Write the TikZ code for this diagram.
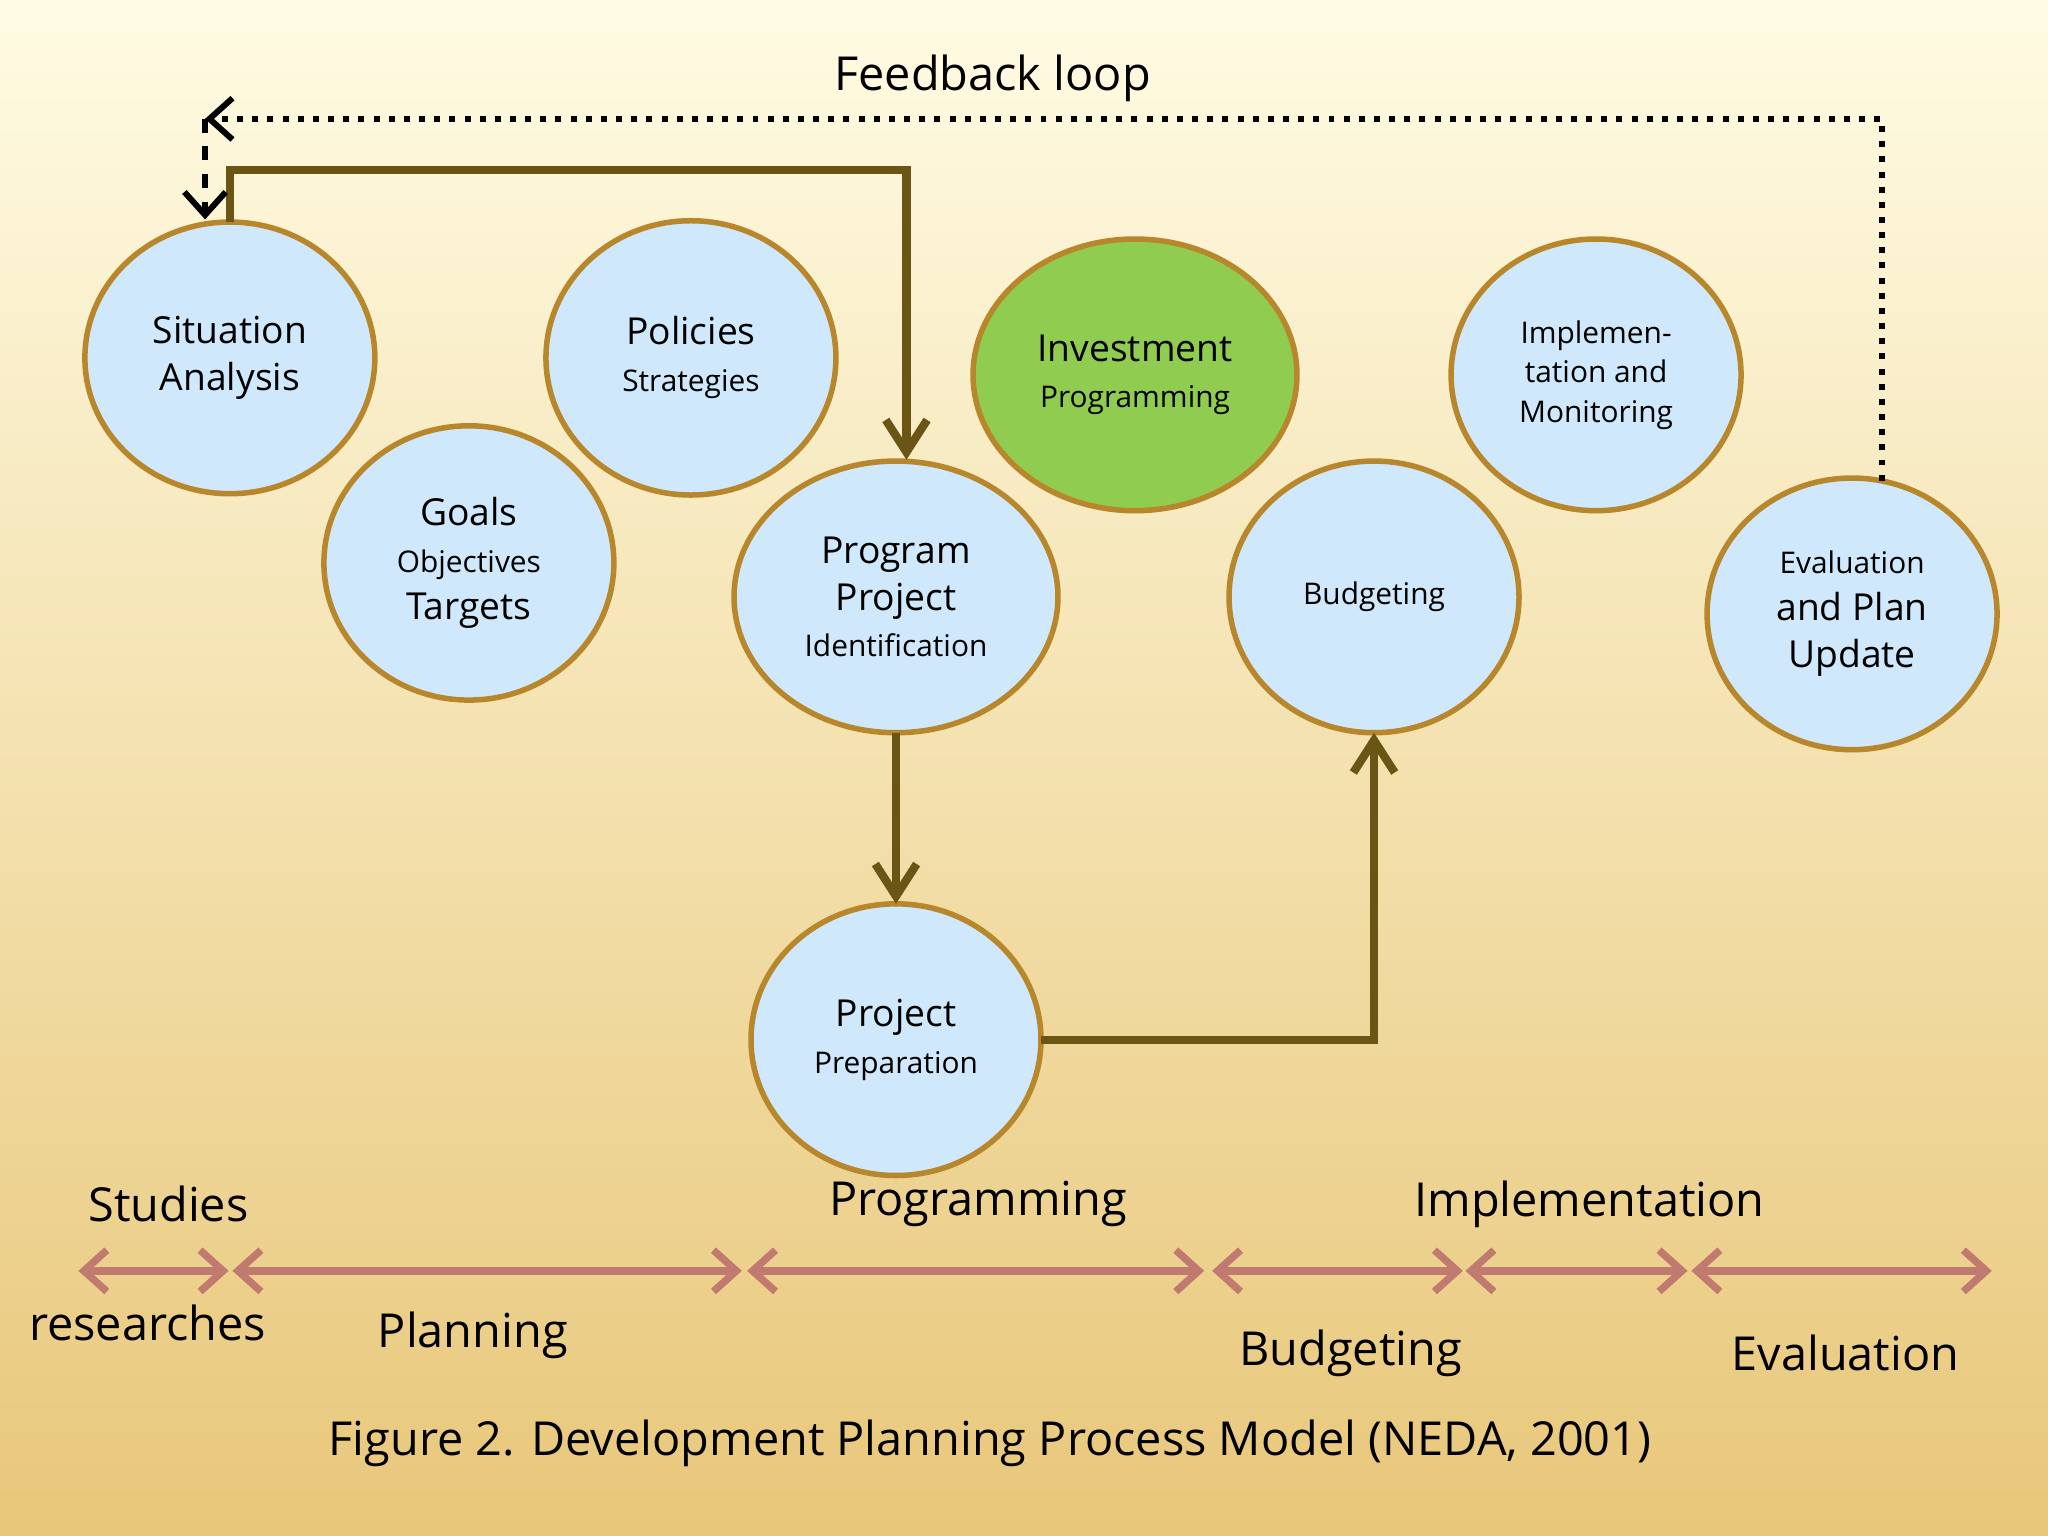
\documentclass[tikz,border=0pt]{standalone}
\usepackage{fontspec}
\setmainfont{Open Sans}
\usetikzlibrary{arrows.meta}
\definecolor{cfill}{HTML}{CFE8FB}
\definecolor{cbord}{HTML}{B8862B}
\definecolor{arr}{HTML}{6B5515}
\definecolor{tl}{HTML}{C07A70}
\definecolor{grn}{HTML}{8FCC50}
\tikzset{
 big/.style={align=center,font=\fontsize{8.1}{10.2}\selectfont},
 sm/.style={font=\fontsize{6.5}{8.6}\selectfont},
 flow/.style={draw=arr,line width=1.8pt,-{Straight Barb[length=7pt,width=9pt]}},
 tline/.style={draw=tl,line width=1.6pt,{Straight Barb[length=5pt,width=9pt]}-{Straight Barb[length=5pt,width=9pt]}},
 lbl/.style={font=\fontsize{10.2}{12}\selectfont}
}
\newcommand{\smt}[1]{{\fontsize{6.5}{8.6}\selectfont #1}}
\begin{document}
\begin{tikzpicture}[x=0.01cm,y=-0.01cm]
\shade[top color=yellow!8!white!97!orange, bottom color={rgb,255:red,232;green,199;blue,122}] (0,0) rectangle (1568,1176);
\useasboundingbox (0,0) rectangle (1568,1176);
\newcommand{\mycirc}[6]{\draw[draw=cbord,line width=1.2pt,fill=#6] (#2,#3) ellipse [x radius=#4,y radius=#5]; \coordinate (#1) at (#2,#3);}
\mycirc{sa}{176}{274}{111}{104}{cfill}
\mycirc{go}{359}{431}{111}{105}{cfill}
\mycirc{po}{529}{274}{111}{105}{cfill}
\mycirc{pp}{686}{457}{124}{104}{cfill}
\mycirc{ip}{869}{287}{124}{104}{grn}
\mycirc{bu}{1052}{457}{111}{104}{cfill}
\mycirc{im}{1222}{287}{111}{104}{cfill}
\mycirc{ev}{1418}{470}{111}{104}{cfill}
\mycirc{pr}{686}{796}{111}{104}{cfill}
\node[big] (tsa) at (sa) {Situation\\Analysis};
\node[big] (tgo) at (go) {Goals\\\smt{Objectives}\\Targets};
\node[big] (tpo) at (po) {Policies\\\smt{Strategies}};
\node[big] (tpp) at (pp) {Program\\Project\\\smt{Identification}};
\node[big] (tip) at (ip) {Investment\\\smt{Programming}};
\node[sm] (tbu) at (bu) {Budgeting};
\node[sm,align=center] (tim) at (im) {Implemen-\\tation and\\Monitoring};
\node[big] (tev) at (ev) {\smt{Evaluation}\\and Plan\\Update};
\node[big] (tpr) at (pr) {Project\\\smt{Preparation}};
\coordinate (saT) at (176,170); \coordinate (ppT) at (694,352);
\draw[flow] (saT) -- (176,130) -- (694,130) -- (ppT);
\coordinate (ppB) at (686,561); \coordinate (prT) at (686,692);
\draw[flow] (ppB) -- (prT);
\coordinate (prR) at (797,796); \coordinate (buB) at (1052,561);
\draw[flow] (prR) -- (1052,796) -- (buB);
\coordinate (evT) at (1441,368); \coordinate (fc) at (157,91); \coordinate (saL) at (157,168);
\draw[line width=1.3pt,dotted,-{Straight Barb[length=5pt,width=9pt]}] (evT) -- (1441,91) -- (fc);
\draw[line width=1.3pt,dashed,-{Straight Barb[length=5pt,width=9pt]}] (fc) -- (saL);
\node[lbl] (fb) at (760,60) {Feedback loop};
\foreach \a/\b [count=\i] in {60/175,178/568,572/922,928/1120,1122/1292,1295/1525}{
 \coordinate (l\i) at (\a,973); \coordinate (r\i) at (\b,973);
 \draw[tline] (l\i) -- (r\i);}
\node[lbl] (st) at (129,922) {Studies};
\node[lbl] (re) at (113,1013) {researches};
\node[lbl] (pl) at (362,1022) {Planning};
\node[lbl] (pg) at (749,922) {Programming};
\node[lbl] (ie) at (1217,922) {Implementation};
\node[lbl] (bg) at (1034,1036) {Budgeting};
\node[lbl] (ev2) at (1413,1036) {Evaluation};
\node[lbl] (cap) at (758,1105) {Figure 2. Development Planning Process Model (NEDA, 2001)};
\end{tikzpicture}
\end{document}
